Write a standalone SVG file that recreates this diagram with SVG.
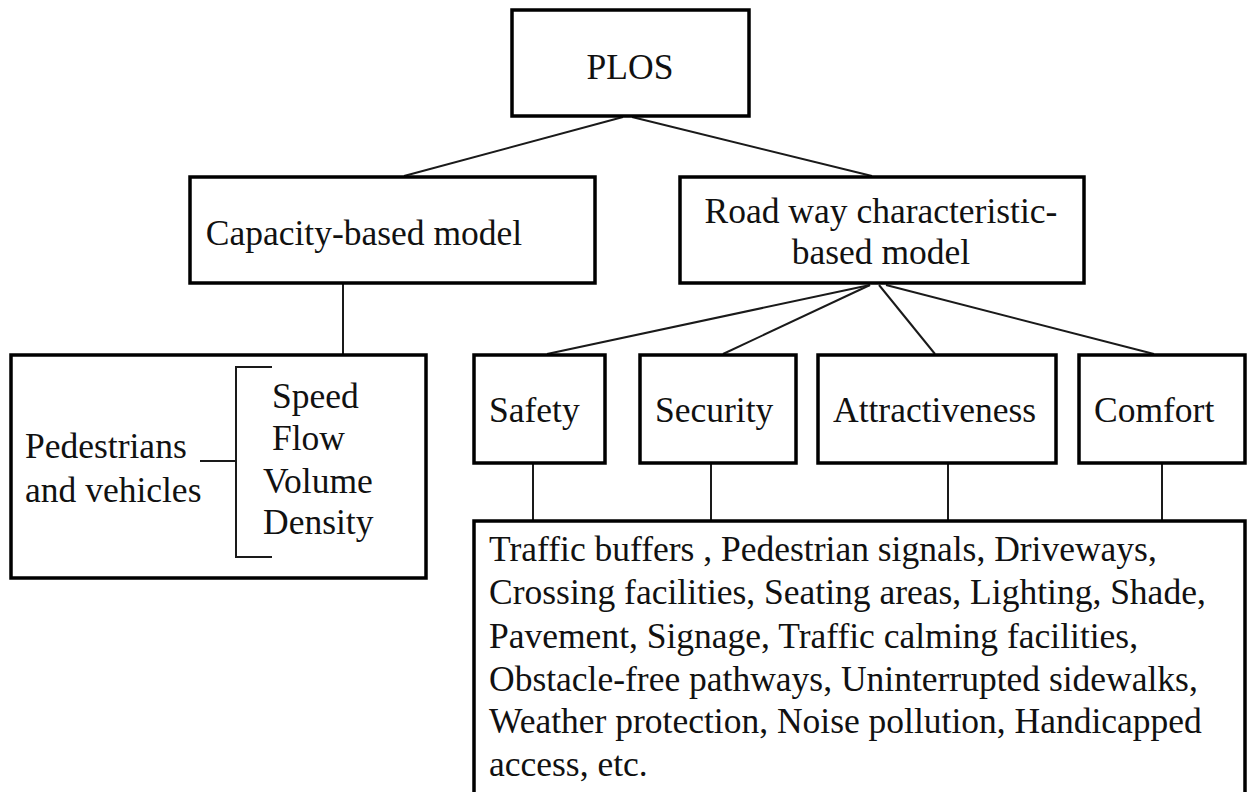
<svg xmlns="http://www.w3.org/2000/svg" width="1248" height="792" viewBox="0 0 1248 792">
<style>
.box{fill:#fff;stroke:#000;stroke-width:3.5}
.ln{stroke:#1a1a1a;stroke-width:2;fill:none}
text{font-family:"Liberation Serif","Times New Roman",serif;font-size:35.5px;fill:#111}
</style>
<rect x="0" y="0" width="1248" height="792" fill="#fff"/>
<g id="connectors">
<line class="ln" x1="623" y1="117" x2="404" y2="176"/>
<line class="ln" x1="632" y1="117" x2="872" y2="176"/>
<line class="ln" x1="343" y1="284" x2="343" y2="355"/>
<line class="ln" x1="870" y1="285" x2="547" y2="354"/>
<line class="ln" x1="870" y1="285" x2="723" y2="354"/>
<line class="ln" x1="879" y1="285" x2="935" y2="354"/>
<line class="ln" x1="886" y1="285" x2="1154" y2="354"/>
<line class="ln" x1="533" y1="463" x2="533" y2="521"/>
<line class="ln" x1="711" y1="463" x2="711" y2="521"/>
<line class="ln" x1="948" y1="463" x2="948" y2="521"/>
<line class="ln" x1="1162" y1="463" x2="1162" y2="521"/>
</g>
<g id="plos">
<rect class="box" x="512" y="10" width="237" height="106"/>
<text x="630" y="79" text-anchor="middle">PLOS</text>
</g>
<g id="capacity">
<rect class="box" x="190" y="177" width="405" height="106"/>
<text x="364" y="245" text-anchor="middle">Capacity-based model</text>
</g>
<g id="roadway">
<rect class="box" x="680" y="177" width="404" height="106"/>
<text x="881" y="223" text-anchor="middle">Road way characteristic-</text>
<text x="881" y="264" text-anchor="middle">based model</text>
</g>
<g id="capacity-detail">
<rect class="box" x="11" y="355" width="415" height="223"/>
<text x="25" y="458">Pedestrians</text>
<text x="25" y="502">and vehicles</text>
<path class="ln" d="M200 461 H236 M272 367 H236 V557 H272"/>
<text x="272" y="408">Speed</text>
<text x="272" y="450">Flow</text>
<text x="263" y="493">Volume</text>
<text x="263" y="534">Density</text>
</g>
<g id="safety">
<rect class="box" x="474" y="355" width="131" height="108"/>
<text x="489" y="422">Safety</text>
</g>
<g id="security">
<rect class="box" x="640" y="355" width="156" height="108"/>
<text x="655" y="422">Security</text>
</g>
<g id="attractiveness">
<rect class="box" x="818" y="355" width="238" height="108"/>
<text x="833" y="422">Attractiveness</text>
</g>
<g id="comfort">
<rect class="box" x="1079" y="355" width="166" height="108"/>
<text x="1094" y="422">Comfort</text>
</g>
<g id="factors">
<rect class="box" x="474" y="521" width="771" height="290"/>
<text x="489" y="561">Traffic buffers , Pedestrian signals, Driveways,</text>
<text x="489" y="604">Crossing facilities, Seating areas, Lighting, Shade,</text>
<text x="489" y="648">Pavement, Signage, Traffic calming facilities,</text>
<text x="489" y="691">Obstacle-free pathways, Uninterrupted sidewalks,</text>
<text x="489" y="733">Weather protection, Noise pollution, Handicapped</text>
<text x="489" y="776">access, etc.</text>
</g>
</svg>
